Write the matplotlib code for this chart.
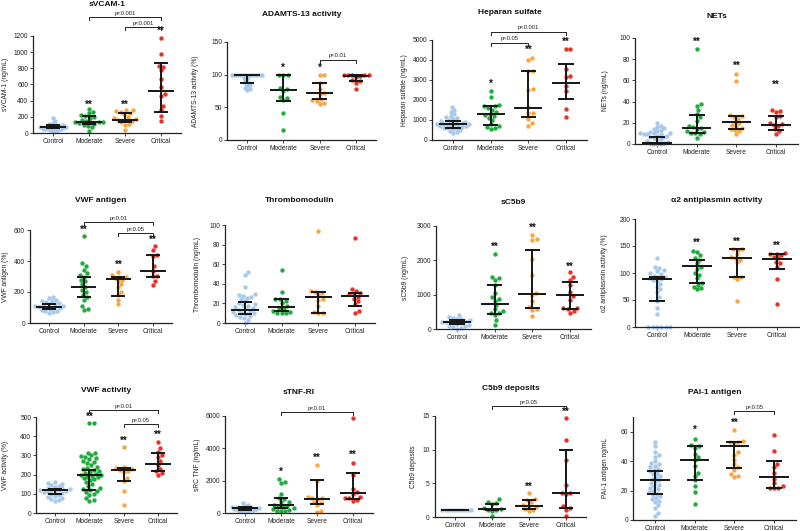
import numpy as np
import matplotlib
matplotlib.use('Agg')
import matplotlib.pyplot as plt

plt.rcParams['font.family'] = ['Liberation Sans', 'DejaVu Sans']

groups = ['Control', 'Moderate', 'Severe', 'Critical']
colors = ['#a9c9ea', '#22aa3f', '#f8a542', '#ec3026']

# values per group: Control, Moderate, Severe, Critical
# iqr lists: (median, q1, q3)
svcam = [
    [190, 150, 125, 115, 105, 100, 95, 90, 85, 80, 78, 75, 72, 70, 68, 65, 60, 58, 55, 50, 48, 45, 40, 35, 30, 25],
    [300, 255, 245, 220, 205, 195, 185, 165, 150, 140, 140, 135, 130, 120, 115, 105, 85, 70, 30],
    [290, 280, 270, 260, 250, 230, 200, 180, 170, 160, 160, 150, 130, 110, 100, 40],
    [1180, 980, 830, 820, 775, 670, 570, 480, 455, 330, 280, 205, 150],
]
svcam_iqr = [(75, 60, 95), (140, 115, 215), (165, 130, 250), (520, 265, 860)]
svcam_stars = ['', '**', '**', '**']
svcam_star_y = [0, 345, 345, 1265]
svcam_brackets = [(1, 3, 1430, 'p<0.001'), (2, 3, 1315, 'p<0.001')]

adamts = [
    [100, 100, 100, 100, 100, 100, 100, 100, 100, 100, 100, 97, 95, 93, 90, 88, 86, 84, 82, 80, 78, 77],
    [100, 100, 100, 80, 78, 75, 66, 65, 61, 42, 15],
    [100, 100, 88, 78, 72, 71, 62, 61, 60, 57, 55],
    [100, 100, 100, 100, 100, 98, 96, 92, 90, 88, 78],
]
adamts_iqr = [(100, 88, 100), (76, 60, 100), (72, 63, 87), (98, 90, 100)]
adamts_stars = ['', '*', '*', '']
adamts_star_y = [0, 110, 110, 0]
adamts_brackets = [(2, 3, 123, 'p<0.01')]

heparan = [
    [1650, 1500, 1400, 1300, 1200, 1150, 1100, 1050, 1000, 950, 920, 900, 870, 850, 820, 800, 790, 780,
     760, 740, 720, 700, 680, 650, 620, 600, 580, 550, 500, 450, 400, 350],
    [2470, 2130, 1750, 1700, 1680, 1600, 1500, 1400, 1300, 1250, 1200, 1100, 1000, 800, 720, 650, 600, 550],
    [4120, 4000, 3470, 3450, 2530, 2500, 1630, 1370, 1370, 1030, 870, 720],
    [4550, 4550, 3530, 3200, 3130, 2700, 2470, 1530, 1170],
]
heparan_iqr = [(780, 620, 950), (1290, 740, 1700), (1620, 1130, 3450), (2850, 2050, 3800)]
heparan_stars = ['', '*', '**', '**']
heparan_star_y = [0, 2800, 4500, 4920]
heparan_brackets = [(1, 3, 5420, 'p<0.001'), (1, 2, 4870, 'p<0.05')]

nets = [
    [20, 17, 16, 15, 14, 13, 12, 11, 10, 10, 10, 9, 9, 9, 8, 8, 7, 7, 6, 5, 4, 3, 2, 1, 1, 0, 0, 0],
    [90, 38, 36, 32, 28, 25, 22, 17, 16, 15, 14, 12, 11, 10, 10, 9, 6],
    [66, 59, 27, 26, 25, 24, 21, 20, 18, 17, 15, 14, 13, 12, 9],
    [32, 31, 30, 26, 25, 20, 19, 18, 17, 14, 12, 9],
]
nets_iqr = [(1, 0, 7), (15.5, 10, 27.8), (21, 14, 26), (17.7, 13, 26)]
nets_stars = ['', '**', '**', '**']
nets_star_y = [0, 96, 74, 56]
nets_brackets = []

vwf_ag = [
    [170, 160, 150, 145, 140, 135, 130, 125, 120, 115, 110, 110, 105, 100, 100, 95, 90, 85, 80, 75, 70, 65],
    [560, 385, 370, 345, 320, 310, 300, 280, 270, 250, 230, 210, 200, 180, 170, 150, 110, 90, 85],
    [330, 310, 300, 300, 290, 280, 270, 250, 230, 200, 180, 150, 120],
    [495, 471, 439, 432, 366, 338, 305, 301, 273, 247],
]
vwf_ag_iqr = [(105, 88, 120), (230, 170, 299), (284, 174, 300), (335, 300, 437)]
vwf_ag_stars = ['', '**', '**', '**']
vwf_ag_star_y = [0, 600, 376, 535]
vwf_ag_brackets = [(1, 3, 650, 'p<0.01'), (2, 3, 578, 'p<0.05')]

thrombo = [
    [52, 49, 37, 30, 29, 28, 27, 26, 24, 22, 20, 19, 18, 17, 16, 15, 14, 13, 12, 11, 10, 10, 9, 8, 7, 6, 5, 3, 0],
    [54, 32, 25, 24, 22, 20, 17, 15, 14, 12, 11, 10, 10, 10],
    [94, 33, 32, 31, 29, 24, 23, 17, 11, 10, 10],
    [87, 35, 33, 31, 30, 29, 27, 24, 22, 19, 12, 10],
]
thrombo_iqr = [(13.7, 9, 21), (16.8, 12, 24), (26.7, 10, 32), (27.5, 17.8, 31)]
thrombo_stars = ['', '', '', '']
thrombo_star_y = [0, 0, 0, 0]
thrombo_brackets = []

sc5b9 = [
    [400, 350, 320, 300, 280, 250, 230, 200, 200, 180, 170, 150, 120, 100, 80, 50, 20, 10],
    [2180, 1520, 1480, 1420, 1280, 1050, 920, 870, 820, 700, 580, 520, 480, 460, 420, 250, 130],
    [2750, 2620, 2580, 2050, 1570, 1050, 1000, 830, 640, 580, 560, 380],
    [1650, 1520, 1420, 1280, 1090, 950, 850, 620, 600, 590, 520, 480],
]
sc5b9_iqr = [(194, 150, 250), (738, 446, 1272), (1019, 612, 2300), (990, 583, 1359)]
sc5b9_stars = ['', '**', '**', '**']
sc5b9_star_y = [0, 2400, 2960, 1815]
sc5b9_brackets = []

a2ap = [
    [127, 112, 110, 105, 103, 100, 98, 95, 93, 92, 90, 88, 87, 85, 80, 75, 70, 65, 55, 48, 35, 24, 0, 0, 0, 0, 0, 0],
    [140, 139, 133, 128, 125, 118, 112, 108, 100, 97, 90, 82, 78, 75, 72, 70],
    [145, 144, 143, 135, 130, 127, 125, 120, 93, 92, 88, 48],
    [137, 136, 135, 133, 130, 127, 120, 118, 112, 88, 42],
]
a2ap_iqr = [(88, 49, 93), (113, 82, 125), (127.5, 92, 144), (126, 107, 135)]
a2ap_stars = ['', '**', '**', '**']
a2ap_star_y = [0, 156, 158, 150]
a2ap_brackets = []

vwf_act = [
    [160, 155, 150, 145, 140, 135, 130, 128, 125, 122, 120, 118, 115, 112, 110, 108, 105, 100, 95, 90, 85,
     80, 75, 70, 65],
    [470, 470, 315, 310, 300, 295, 290, 285, 280, 270, 265, 260, 250, 240, 235, 230, 225, 220, 215, 210, 205,
     200, 200, 195, 190, 185, 180, 175, 170, 160, 150, 140, 130, 125, 120, 115, 110, 100, 95, 80, 70, 65],
    [345, 240, 235, 230, 225, 220, 215, 180, 165, 115, 40],
    [370, 340, 320, 300, 290, 270, 250, 230, 220, 210, 200],
]
vwf_act_iqr = [(120, 100, 125), (198, 120, 225), (225, 165, 235), (256, 221, 315)]
vwf_act_stars = ['', '**', '**', '**']
vwf_act_star_y = [0, 500, 375, 408]
vwf_act_brackets = [(1, 3, 535, 'p<0.01'), (2, 3, 462, 'p<0.05')]

stnf = [
    [600, 500, 450, 400, 380, 350, 330, 300, 300, 280, 260, 250, 240, 220, 200, 180, 150, 120, 100, 50],
    [2100, 1900, 1850, 1200, 900, 850, 700, 650, 500, 450, 400, 350, 300, 250, 200, 150, 100, 100],
    [2950, 2000, 1000, 950, 900, 850, 700, 600, 500, 100, 50],
    [5850, 3100, 2350, 1500, 1300, 1200, 1000, 900, 900, 800, 750],
]
stnf_iqr = [(280, 200, 350), (476, 310, 910), (848, 560, 2050), (1263, 850, 2463)]
stnf_stars = ['', '*', '**', '**']
stnf_star_y = [0, 2525, 3400, 3620]
stnf_brackets = [(1, 3, 6230, 'p<0.01')]

c5b9dep = [
    [1, 1, 1, 1, 1, 1, 1, 1, 1, 1],
    [2.6, 2.2, 2.1, 2.0, 1.4, 1.2, 1.0, 1.0, 0.9, 0.2],
    [3.5, 2.6, 2.5, 2.3, 1.8, 1.7, 1.5, 1.2, 1.0, 0.9],
    [14.7, 11.5, 8.4, 4.7, 3.6, 3.6, 3.4, 1.6, 1.3, 1.1, 0.2],
]
c5b9dep_iqr = [(1, 1, 1), (1.2, 1.0, 2.0), (1.7, 1.2, 2.5), (3.6, 1.3, 10)]
c5b9dep_stars = ['', '', '**', '**']
c5b9dep_star_y = [0, 0, 4.5, 15.6]
c5b9dep_brackets = [(1, 3, 16.5, 'p<0.05')]

pai1 = [
    [53, 50, 46, 44, 43, 40, 39, 38, 37, 36, 35, 34, 33, 32, 31, 30, 29, 28, 27, 26, 25, 24, 23, 22, 21,
     20, 19, 18, 17, 16, 15, 14, 13, 12, 10, 8, 5, 3],
    [55, 51, 50, 49, 45, 43, 41, 37, 32, 30, 27, 23, 19, 11],
    [61, 54, 53, 53, 52, 46, 44, 41, 38, 36, 34, 31, 30, 29],
    [58, 47, 38, 36, 32, 28, 25, 23, 22, 22, 22],
]
pai1_iqr = [(27, 18, 33), (40.5, 27, 50), (50, 35.5, 53), (29, 22, 40)]
pai1_stars = ['', '*', '**', '']
pai1_star_y = [0, 61, 66, 0]
pai1_brackets = [(2, 3, 74, 'p<0.05')]

titles = ['sVCAM-1', 'ADAMTS-13 activity', 'Heparan sulfate', 'NETs',
          'VWF antigen', 'Thrombomodulin', 'sC5b9', '\u03b12 antiplasmin activity',
          'VWF activity', 'sTNF-RI', 'C5b9 deposits', 'PAI-1 antigen']
ylabels = ['sVCAM-1 (ng/mL)', 'ADAMTS-13 activity (%)', 'Heparan sulfate (ng/mL)', 'NETs (ng/mL)',
           'VWF antigen (%)', 'Thrombomodulin (ng/mL)', 'sC5b9 (ng/mL)', '\u03b12 antiplasmin activity (%)',
           'VWF activity (%)', 'sRC TNF (ng/mL)', 'C5b9 deposits', 'PAI-1 antigen ng/mL']
ymax = [1200, 150, 5000, 100, 600, 100, 3000, 200, 500, 6000, 15, 70]
ystep = [200, 50, 1000, 20, 200, 20, 1000, 50, 100, 2000, 5, 20]

# layout in pixels: control centre, critical centre, top of y range, y=0, title y, ylabel right edge x
layout = [
    (53, 161, 36, 133, 4, 9), (247, 356, 42, 140, 14, 199), (453, 566, 40, 140, 13, 408), (657, 776, 38, 144, 17, 609),
    (49, 153, 230, 323, 201, 9), (245, 355, 225, 323, 201, 201), (457, 570, 226, 329, 202, 409), (657, 777, 219, 327, 201, 608),
    (55, 158, 417, 513, 391, 9), (245, 353, 416, 513, 392, 201), (455, 566, 416, 517, 388, 417), (655, 774, 417, 520, 393, 609),
]

panels = [
    (svcam, svcam_iqr, svcam_stars, svcam_star_y, svcam_brackets),
    (adamts, adamts_iqr, adamts_stars, adamts_star_y, adamts_brackets),
    (heparan, heparan_iqr, heparan_stars, heparan_star_y, heparan_brackets),
    (nets, nets_iqr, nets_stars, nets_star_y, nets_brackets),
    (vwf_ag, vwf_ag_iqr, vwf_ag_stars, vwf_ag_star_y, vwf_ag_brackets),
    (thrombo, thrombo_iqr, thrombo_stars, thrombo_star_y, thrombo_brackets),
    (sc5b9, sc5b9_iqr, sc5b9_stars, sc5b9_star_y, sc5b9_brackets),
    (a2ap, a2ap_iqr, a2ap_stars, a2ap_star_y, a2ap_brackets),
    (vwf_act, vwf_act_iqr, vwf_act_stars, vwf_act_star_y, vwf_act_brackets),
    (stnf, stnf_iqr, stnf_stars, stnf_star_y, stnf_brackets),
    (c5b9dep, c5b9dep_iqr, c5b9dep_stars, c5b9dep_star_y, c5b9dep_brackets),
    (pai1, pai1_iqr, pai1_stars, pai1_star_y, pai1_brackets),
]

W, H = 800, 531
XL = (-0.55, 3.55)


def swarm(vals, k, s, d=4.4, half=0.45):
    # simple beeswarm: offsets (in group units) so that dots don't overlap
    y = np.asarray(vals, dtype=float) * k
    order = np.argsort(y, kind='stable')
    while True:
        xs = np.zeros(len(y))
        placed = []
        for i in order:
            cands = [0.0]
            for j in placed:
                dy = y[i] - y[j]
                if abs(dy) < d:
                    dx = np.sqrt(d * d - dy * dy)
                    cands += [xs[j] + dx, xs[j] - dx]
            cands.sort(key=abs)
            c = cands[-1]
            for c in cands:
                if all((c - xs[j]) ** 2 + (y[i] - y[j]) ** 2 >= d * d - 1e-6 for j in placed):
                    break
            xs[i] = c
            placed.append(i)
        if np.abs(xs).max() <= half * s or d < 1.8:
            break
        d *= 0.92
    return xs / s


fig = plt.figure(figsize=(W / 100, H / 100), dpi=100)
line_col = '#151515'

for n, (data, iqr, stars, star_y, brackets) in enumerate(panels):
    c0, c3, top, bot, ty, lx = layout[n]
    s = (c3 - c0) / 3.0
    L = c0 + XL[0] * s
    R = c0 + XL[1] * s
    ax = fig.add_axes([L / W, 1 - bot / H, (R - L) / W, (bot - top) / H])
    ax.set_xlim(*XL)
    ax.set_ylim(0, ymax[n])
    k = (bot - top) / ymax[n]  # px per data unit

    for g in range(4):
        off = swarm(data[g], k, s)
        ax.scatter(g + off, data[g], s=10, color=colors[g], linewidths=0, zorder=2, clip_on=False)
        med, q1, q3 = iqr[g]
        ax.plot([g - 0.37, g + 0.37], [med, med], color=line_col, lw=1.4, zorder=3, solid_capstyle='butt')
        ax.plot([g, g], [q1, q3], color=line_col, lw=1.4, zorder=3)
        for q in (q1, q3):
            ax.plot([g - 0.2, g + 0.2], [q, q], color=line_col, lw=1.4, zorder=3, solid_capstyle='butt')
        if stars[g]:
            ax.text(g, star_y[g], stars[g], ha='center', va='center', fontsize=7,
                    fontweight='bold', color='#111111', clip_on=False)

    for a, b, yb, lab in brackets:
        h = 3.0 / k
        ax.plot([a, a, b, b], [yb - h, yb, yb, yb - h], color='#222222', lw=0.7, clip_on=False)
        ax.text((a + b) / 2, yb + 1.2 / k, lab, ha='center', va='bottom', fontsize=4.2, color='#222222')

    for side in ('top', 'right'):
        ax.spines[side].set_visible(False)
    for side in ('left', 'bottom'):
        ax.spines[side].set_linewidth(0.9)
        ax.spines[side].set_color('#222222')
    ax.set_yticks(np.arange(0, ymax[n] + 0.01, ystep[n]))
    ax.set_xticks(range(4))
    ax.set_xticklabels(groups)
    ax.tick_params(axis='both', labelsize=4.8, length=2, width=0.6, pad=1.5, colors='#222222')
    ax.set_ylabel(ylabels[n], fontsize=4.8, color='#222222')
    ax.yaxis.set_label_coords((lx - L) / (R - L), 0.5)

    fig.text((L + R) / 2 / W, 1 - ty / H, titles[n], ha='center', va='center',
             fontsize=6, fontweight='bold', color='#111111')

fig.savefig('out.png', dpi=100)
